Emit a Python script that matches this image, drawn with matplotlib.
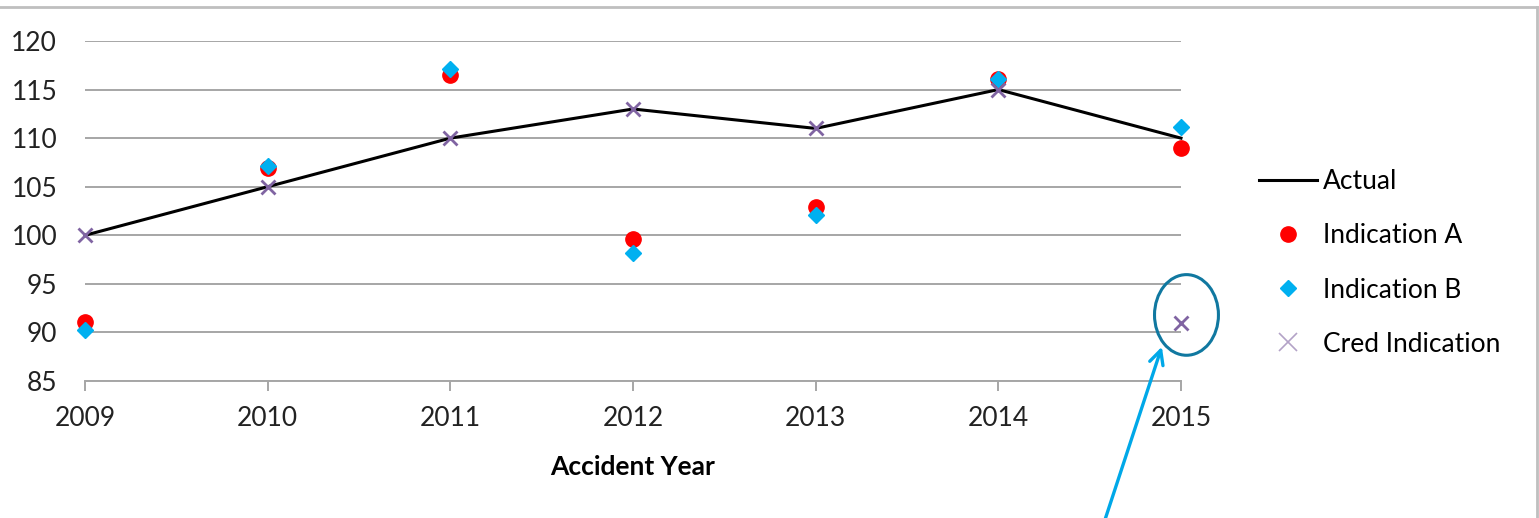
import matplotlib.pyplot as plt
from matplotlib.lines import Line2D
from matplotlib.patches import Ellipse

plt.rcParams['font.family'] = ['Lato', 'DejaVu Sans']

years = [2009, 2010, 2011, 2012, 2013, 2014, 2015]
actual = [100, 105, 110, 113, 111, 115, 110]
indication_a = [91.1, 106.9, 116.5, 99.6, 102.9, 116.1, 109.0]
indication_b = [90.2, 107.1, 117.1, 98.2, 102.1, 116.1, 111.1]
cred_indication = [100, 105, 110, 113, 111, 115, 91]
y_ticks = [85, 90, 95, 100, 105, 110, 115, 120]

RED = '#FF0000'
BLUE = '#00B0F0'
PURPLE = '#8064A2'
GRID = '#A6A6A6'

fig = plt.figure(figsize=(15.39, 5.18), dpi=100)
ax = fig.add_axes([85 / 1539, 1 - 381 / 518, (1181 - 85) / 1539, (381 - 41) / 518])

ax.plot(years, actual, color='black', lw=2.2, zorder=2, clip_on=False)
ax.plot(years, indication_a, 'o', color=RED, ms=11, ls='none', zorder=3, clip_on=False)
ax.plot(years, indication_b, 'D', color=BLUE, ms=8.5, ls='none', zorder=4, clip_on=False)
ax.plot(years, cred_indication, 'x', color=PURPLE, ms=10, mew=2, ls='none', zorder=5, clip_on=False)

ax.set_xlim(2009, 2015)
ax.set_ylim(85, 120)
ax.set_xticks(years)
ax.set_xticklabels([str(y) for y in years])
ax.set_yticks(y_ticks)
ax.yaxis.grid(True, color=GRID, lw=1.4)
ax.set_axisbelow(True)
for s in ['top', 'right', 'left']:
    ax.spines[s].set_visible(False)
ax.spines['bottom'].set_color(GRID)
ax.spines['bottom'].set_linewidth(1.4)
ax.tick_params(axis='x', direction='out', length=7, width=1.4, color=GRID,
               labelsize=19, pad=11, labelcolor='#222222')
ax.tick_params(axis='y', length=0, labelsize=19, pad=20, labelcolor='#222222')
ax.set_xlabel('Accident Year', fontsize=19, fontweight='bold', labelpad=17)

# annotation circle and arrow
ax.add_patch(Ellipse((2015.03, 91.8), 0.35, 8.3, fill=False, ec='#1078A0',
                     lw=2.2, clip_on=False, zorder=6))
ax.annotate('', xy=(2014.9, 88.8), xytext=(2014.58, 70.5),
            xycoords='data', textcoords='data', annotation_clip=False,
            arrowprops=dict(arrowstyle='->', color='#00A8E8', lw=2.4,
                            mutation_scale=25))

handles = [
    Line2D([], [], color='black', lw=2.2),
    Line2D([], [], marker='o', color=RED, ls='none', ms=11),
    Line2D([], [], marker='D', color=BLUE, ls='none', ms=8.5),
    Line2D([], [], marker='x', color='#B3A2C7', ls='none', ms=13, mew=1.2),
]
labels = ['Actual', 'Indication A', 'Indication B', 'Cred Indication']
fig.legend(handles, labels, loc='center left',
           bbox_to_anchor=(1235 / 1539, 1 - 263 / 518), frameon=False,
           fontsize=19, handlelength=2.2, handletextpad=0.25, labelspacing=1.1)

# chart frame (top and right edges visible)
fig.add_artist(Line2D([0, 1537 / 1539], [1 - 7 / 518, 1 - 7 / 518],
                      color='#BFBFBF', lw=2, transform=fig.transFigure))
fig.add_artist(Line2D([1537 / 1539, 1537 / 1539], [0, 1 - 7 / 518],
                      color='#BFBFBF', lw=2, transform=fig.transFigure))

fig.savefig('out.png', dpi=100)
